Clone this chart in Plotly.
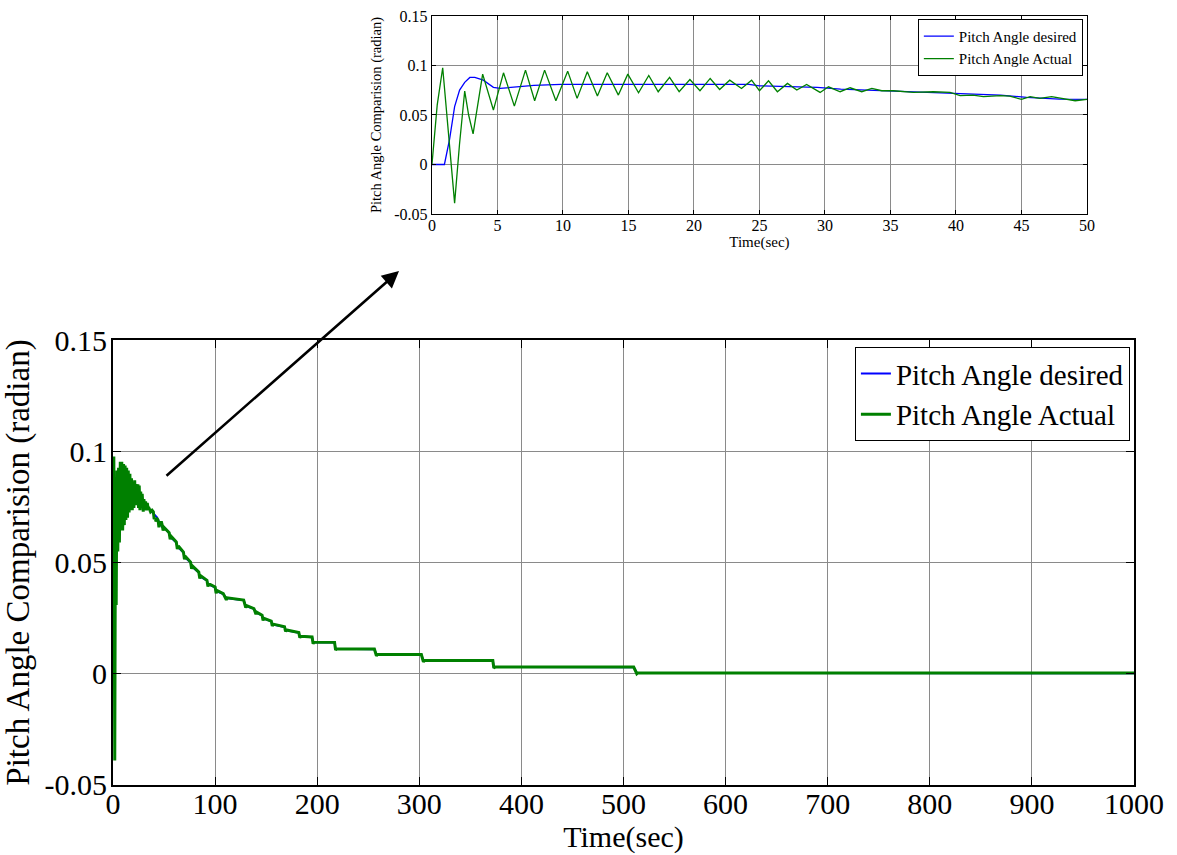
import plotly.graph_objects as go

# ---------------- data ----------------
# early part (0-50 s)
t_des_early = [0, 0.95, 1.34, 1.73, 2.11, 2.5, 2.89, 3.27, 3.92, 4.69, 5.2, 6.24, 7.27, 7.78, 9.85,
               15, 20, 24.2, 25, 29.4, 31.2, 35, 36.8, 40, 43.4, 45.4, 47.9, 50]
des_early = [0, 0, 0.025, 0.0584, 0.0752, 0.083, 0.0879, 0.0879, 0.0852, 0.0779, 0.0768, 0.0778,
             0.0792, 0.080, 0.0809, 0.0809, 0.0809, 0.0809, 0.0795, 0.0779, 0.0762, 0.0745,
             0.0735, 0.0718, 0.0701, 0.0678, 0.066, 0.0658]

t_act_early = [0, 0.4, 0.82, 1.2, 1.73, 2.1, 2.5, 2.8, 3.14, 3.87, 4.69, 5.46, 6.29, 7.14, 7.84,
               8.6, 9.46, 10.36, 11.08, 11.86, 12.63, 13.38, 14.23, 14.95, 15.77, 16.55, 17.27,
               18.14, 18.87, 19.69, 20.46, 21.24, 21.96, 22.73, 23.63, 24.4, 25.0, 25.69, 26.37,
               27.14, 27.85, 28.6, 29.63, 30.27, 31.16, 31.92, 32.81, 33.58, 34.34, 35.23, 36.76,
               38.28, 39.55, 40.32, 41.3, 42.1, 43.4, 44.1, 45.0, 45.66, 46.4, 47.3, 48.2, 49.1, 50]
act_early = [0, 0.06, 0.0977, 0.04, -0.039, 0.02, 0.0742, 0.05, 0.0309, 0.0913, 0.055, 0.0926,
             0.059, 0.0953, 0.0644, 0.0953, 0.0644, 0.0943, 0.0668, 0.0936, 0.0691, 0.0926, 0.0701,
             0.0913, 0.0725, 0.0899, 0.0735, 0.0879, 0.0735, 0.0859, 0.0745, 0.0869, 0.0758,
             0.0852, 0.0768, 0.0852, 0.0745, 0.0846, 0.0735, 0.0819, 0.0752, 0.0809, 0.0728,
             0.0785, 0.0735, 0.0775, 0.0735, 0.0768, 0.0745, 0.0745, 0.0728, 0.0735, 0.0728,
             0.0695, 0.0701, 0.0685, 0.0695, 0.0691, 0.0658, 0.0685, 0.0668, 0.0685, 0.0668,
             0.0644, 0.0658]

# late part (50-1000 s) (staircase)
t_des_late = [50, 55, 56, 62, 63, 69, 70, 76, 77, 84, 85, 92, 93, 100, 101, 108, 111, 128, 130,
              138, 140, 146, 147, 155, 156, 168, 169, 182, 183, 195, 196, 217, 218, 256, 258,
              302, 304, 372, 373, 510, 513, 1000]
des_late = [0.0658, 0.0632, 0.0615, 0.0590, 0.0572, 0.0545, 0.0525, 0.0500, 0.0482, 0.0455,
            0.0438, 0.0418, 0.0402, 0.0388, 0.0372, 0.0358, 0.0340, 0.0330, 0.0305, 0.0292,
            0.0275, 0.0262, 0.0248, 0.0236, 0.0222, 0.0210, 0.0196, 0.0184, 0.0168, 0.0164,
            0.0141, 0.0140, 0.0112, 0.0110, 0.0086, 0.0085, 0.0059, 0.0058, 0.0030, 0.0029,
            0.0004, 0.0002]

t_act_late = [50, 55, 56, 57, 62, 63, 64, 69, 70, 71, 76, 77, 78, 84, 85, 86, 92, 93, 94, 100,
              101, 102, 108, 111, 112, 128, 130, 131, 138, 140, 141, 146, 147, 148, 155, 156,
              157, 168, 169, 170, 182, 183, 184, 195, 196, 197, 217, 218, 219, 256, 258, 259,
              302, 304, 305, 372, 373, 374, 510, 513, 514, 1000]
act_late = [0.0658, 0.0634, 0.0604, 0.0617, 0.0592, 0.0560, 0.0574, 0.0547, 0.0515, 0.0527,
            0.0502, 0.0472, 0.0484, 0.0457, 0.0428, 0.0440, 0.0420, 0.0392, 0.0404, 0.0390,
            0.0362, 0.0374, 0.0360, 0.0332, 0.0341, 0.0331, 0.0297, 0.0306, 0.0293, 0.0268,
            0.0276, 0.0263, 0.0240, 0.0249, 0.0237, 0.0215, 0.0223, 0.0211, 0.0190, 0.0197,
            0.0185, 0.0162, 0.0168, 0.0165, 0.0135, 0.0142, 0.0141, 0.0106, 0.0112, 0.0111,
            0.0081, 0.0086, 0.0086, 0.0054, 0.0059, 0.0059, 0.0025, 0.0030, 0.0030, 0.0000,
            0.0004, 0.0003]

main_xticks = [0, 100, 200, 300, 400, 500, 600, 700, 800, 900, 1000]
inset_xticks = [0, 5, 10, 15, 20, 25, 30, 35, 40, 45, 50]
yticks = [-0.05, 0, 0.05, 0.1, 0.15]
ytick_labels = ["-0.05", "0", "0.05", "0.1", "0.15"]

series_names = ["Pitch Angle desired", "Pitch Angle Actual"]
BLUE = "#0000FF"
GREEN = "#008000"
FONT = "Times New Roman, Liberation Serif, serif"
GRID = "#8a8a8a"

fig = go.Figure()

# main chart
fig.add_trace(go.Scatter(x=t_des_early + t_des_late, y=des_early + des_late, mode="lines",
                         line=dict(color=BLUE, width=2), name=series_names[0],
                         xaxis="x", yaxis="y", legend="legend"))
fig.add_trace(go.Scatter(x=t_act_early + t_act_late, y=act_early + act_late, mode="lines",
                         line=dict(color=GREEN, width=3), name=series_names[1],
                         xaxis="x", yaxis="y", legend="legend"))
# inset (zoom on 0-50 s)
fig.add_trace(go.Scatter(x=t_des_early, y=des_early, mode="lines",
                         line=dict(color=BLUE, width=1.3), name=series_names[0],
                         xaxis="x2", yaxis="y2", legend="legend2"))
fig.add_trace(go.Scatter(x=t_act_early, y=act_early, mode="lines",
                         line=dict(color=GREEN, width=1.3), name=series_names[1],
                         xaxis="x2", yaxis="y2", legend="legend2"))

axis_common = dict(showgrid=True, gridcolor=GRID, gridwidth=1, zeroline=False,
                   showline=True, linecolor="black", mirror="ticks", ticks="inside",
                   tickcolor="black", automargin=False)

fig.update_layout(
    template="none",
    width=1177, height=855,
    margin=dict(l=0, r=0, t=0, b=0, pad=0),
    paper_bgcolor="white", plot_bgcolor="white",
    font=dict(family=FONT, color="black"),
    xaxis=dict(domain=[0.0960, 0.9635], range=[0, 1000], tickvals=main_xticks,
               ticklen=8, linewidth=1.8, tickfont=dict(size=30, family=FONT),
               ticklabelstandoff=-9,
               title=dict(text="Time(sec)", font=dict(size=30, family=FONT), standoff=0),
               anchor="y", **axis_common),
    yaxis=dict(domain=[0.0819, 0.6023], range=[-0.05, 0.15], tickvals=yticks,
               ticktext=ytick_labels, ticklen=8, linewidth=1.8,
               tickfont=dict(size=30, family=FONT), ticklabelstandoff=-2,
               title=dict(text="Pitch Angle Comparision (radian)",
                          font=dict(size=33, family=FONT), standoff=7),
               anchor="x", **axis_common),
    xaxis2=dict(domain=[0.367, 0.9235], range=[0, 50], tickvals=inset_xticks,
                ticklen=4, linewidth=1.3, tickfont=dict(size=16, family=FONT),
                ticklabelstandoff=-3,
                title=dict(text="Time(sec)", font=dict(size=15, family=FONT), standoff=0),
                anchor="y2", **axis_common),
    yaxis2=dict(domain=[0.7497, 0.9813], range=[-0.05, 0.15], tickvals=yticks,
                ticktext=ytick_labels, ticklen=4, linewidth=1.3,
                tickfont=dict(size=16, family=FONT),
                title=dict(text="Pitch Angle Comparision (radian)",
                           font=dict(size=14.5, family=FONT), standoff=9),
                anchor="x2", **axis_common),
    legend=dict(x=0.9600, xanchor="right", y=0.594, yanchor="top",
                bgcolor="white", bordercolor="black", borderwidth=1,
                font=dict(size=29, family=FONT), tracegroupgap=0),
    legend2=dict(x=0.9200, xanchor="right", y=0.978, yanchor="top",
                 bgcolor="white", bordercolor="black", borderwidth=1,
                 font=dict(size=15, family=FONT), tracegroupgap=0),
    annotations=[dict(x=399 / 1177, y=1 - 271 / 855, xref="paper", yref="paper",
                      ax=-234, ay=206, axref="pixel", ayref="pixel", text="",
                      showarrow=True, arrowhead=2, arrowsize=1.3, arrowwidth=2.6,
                      arrowcolor="black")],
)

fig.write_html("out.html")
